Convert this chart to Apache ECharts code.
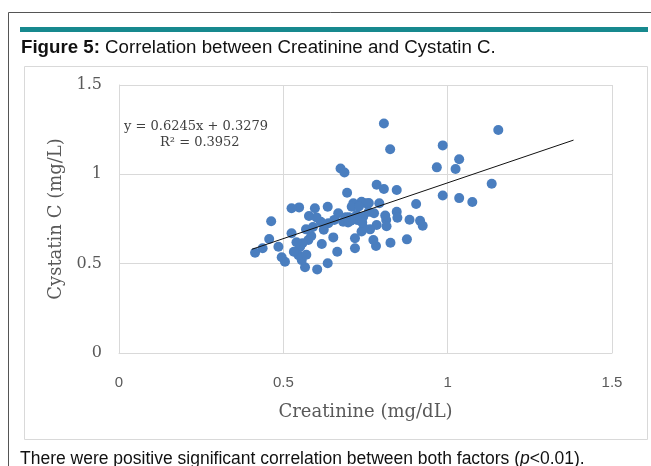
<!DOCTYPE html>
<html>
<head>
<meta charset="utf-8">
<script src="https://cdn.jsdelivr.net/npm/echarts@6/dist/echarts.min.js"></script>
<style>
html,body{margin:0;padding:0;background:#fff;}
#chart{width:651px;height:466px;}
</style>
</head>
<body>
<div id="chart"></div>
<script>
// Creatinine (mg/dL)
var creatinine = [1.154,0.806,0.825,0.985,1.035,0.967,1.024,1.134,0.985,1.035,1.075,0.674,0.686,0.694,0.784,0.806,0.845,0.904,0.916,0.924,0.884,0.876,0.826,0.845,0.847,0.813,0.814,0.784,0.782,0.774,0.764,0.738,0.718,0.718,0.776,0.792,0.751,0.738,0.743,0.723,0.713,0.708,0.682,0.697,0.667,0.664,0.652,0.637,0.635,0.635,0.617,0.614,0.603,0.601,0.596,0.578,0.576,0.569,0.566,0.556,0.551,0.546,0.532,0.525,0.548,0.525,0.505,0.495,0.485,0.463,0.457,0.437,0.414,0.558,0.590,0.623,0.700,0.725,0.760,0.730,0.760,0.705,0.655,0.585,0.540,0.570,0.690,0.745,0.810,0.740];
// Cystatin C (mg/L)
var cystatin = [1.248,1.285,1.140,1.162,1.084,1.039,1.030,0.947,0.882,0.867,0.845,1.033,1.010,0.897,0.942,0.918,0.912,0.834,0.740,0.712,0.746,0.636,0.617,0.791,0.757,0.744,0.709,0.716,0.599,0.632,0.692,0.680,0.642,0.586,0.782,0.838,0.838,0.847,0.763,0.772,0.838,0.819,0.735,0.730,0.782,0.567,0.647,0.726,0.819,0.502,0.610,0.735,0.468,0.759,0.810,0.767,0.632,0.692,0.480,0.520,0.595,0.548,0.567,0.670,0.815,0.810,0.511,0.536,0.595,0.737,0.638,0.586,0.561,0.614,0.705,0.690,0.760,0.745,0.790,0.820,0.840,0.740,0.745,0.655,0.620,0.550,0.760,0.700,0.770,0.730];
// Trendline from the reference label: y = 0.6245x + 0.3279, drawn over x range
var trendCoef = [0.6245, 0.3279];
var trendRange = [0.404, 1.383];
var xTicks = [0, 0.5, 1, 1.5];
var yTicks = [0, 0.5, 1, 1.5];

var points = creatinine.map(function(x, i){ return [x, cystatin[i]]; });
var trend = trendRange.map(function(x){ return [x, trendCoef[0]*x + trendCoef[1]]; });

var chart = echarts.init(document.getElementById('chart'));
chart.setOption({
  animation: false,
  grid: {left: 119, right: 39, top: 85, bottom: 113},
  xAxis: {
    type: 'value', min: xTicks[0], max: xTicks[xTicks.length-1], interval: 0.5,
    name: 'Creatinine (mg/dL)', nameLocation: 'middle', nameGap: 50,
    nameTextStyle: {fontFamily: 'DejaVu Serif', fontSize: 18, color: '#595959'},
    axisLine: {show: true, lineStyle: {color: '#d9d9d9'}},
    axisTick: {show: false},
    axisLabel: {fontFamily: 'Liberation Sans', fontSize: 15, color: '#595959', margin: 22},
    splitLine: {show: true, lineStyle: {color: '#d9d9d9'}}
  },
  yAxis: {
    type: 'value', min: yTicks[0], max: yTicks[yTicks.length-1], interval: 0.5,
    name: 'Cystatin C (mg/L)', nameLocation: 'middle', nameGap: 48,
    nameTextStyle: {fontFamily: 'DejaVu Serif', fontSize: 18, color: '#595959'},
    axisLine: {show: true, lineStyle: {color: '#d9d9d9'}},
    axisTick: {show: false},
    axisLabel: {fontFamily: 'DejaVu Serif', fontSize: 16, color: '#595959', margin: 17},
    splitLine: {show: true, lineStyle: {color: '#d9d9d9'}}
  },
  series: [
    {type: 'scatter', data: points, symbolSize: 10, itemStyle: {color: '#4a7ebf', opacity: 1}, z: 2},
    {type: 'line', data: trend, symbol: 'none', lineStyle: {color: '#111', width: 1}, z: 3}
  ],
  graphic: [
    {type: 'rect', shape: {x: 8.5, y: 12.5, width: 700, height: 500}, style: {fill: 'none', stroke: '#555', lineWidth: 1}, z: -10},
    {type: 'rect', shape: {x: 20, y: 27, width: 628, height: 5}, style: {fill: '#17898e'}},
    {type: 'rect', shape: {x: 24.5, y: 66.5, width: 623, height: 373}, style: {fill: 'none', stroke: '#d9d9d9', lineWidth: 1}, z: -5},
    {type: 'text', left: 21, top: 38, style: {
      text: '{b|Figure 5:} Correlation between Creatinine and Cystatin C.',
      rich: {b: {fontWeight: 'bold', fontFamily: 'Liberation Sans', fontSize: 18.7, fill: '#111'}},
      fontFamily: 'Liberation Sans', fontSize: 18.7, fill: '#111'}},
    {type: 'text', left: 20, top: 450, style: {
      text: 'There were positive significant correlation between both factors ({i|p}<0.01).',
      rich: {i: {fontStyle: 'italic', fontFamily: 'Liberation Sans', fontSize: 17.5, fill: '#111'}},
      fontFamily: 'Liberation Sans', fontSize: 17.5, fill: '#111'}},
    {type: 'text', left: 124, top: 120, style: {
      text: 'y = 0.6245x + 0.3279', fontFamily: 'DejaVu Serif', fontSize: 13, fill: '#404040'}},
    {type: 'text', left: 160, top: 136, style: {
      text: 'R² = 0.3952', fontFamily: 'DejaVu Serif', fontSize: 13, fill: '#404040'}}
  ]
});
</script>
</body>
</html>
